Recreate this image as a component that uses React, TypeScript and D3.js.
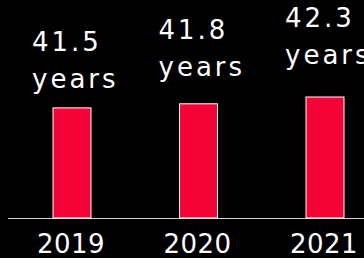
import * as d3 from 'd3';
import { useEffect } from 'react';

const years = ['2019', '2020', '2021'];
const averageAge = [41.5, 41.8, 42.3];
const unitLabel = 'years';

const W = 364;
const H = 258;
const baseline = 218;

const App = () => {
  useEffect(() => {
    document.body.style.margin = '0';
    document.body.style.background = '#000';
  }, []);

  // bar centres
  const x = d3.scalePoint<string>()
    .domain(years)
    .range([72, 325]);

  // bars don't start at zero in the original
  const y = d3.scaleLinear()
    .domain([33.4, 42.3])
    .range([baseline, 97]);

  const barW = 38;
  const font = '"DejaVu Sans", Verdana, sans-serif';

  return (
    <svg width={W} height={H} style={{ display: 'block', background: '#000' }}>
      <line x1={8} x2={W} y1={baseline + 0.5} y2={baseline + 0.5} stroke="#d6d6d6" strokeWidth={1.2} />
      {years.map((yr, i) => {
        const cx = x(yr)!;
        const v = averageAge[i];
        const top = y(v);
        const labelBase = 51 - 12 * i;
        return (
          <g key={yr}>
            <rect
              x={cx - barW / 2}
              y={top}
              width={barW}
              height={baseline - top}
              fill="#f50537"
              stroke="#ffffff"
              strokeWidth={1}
            />
            <text x={cx - 40} y={labelBase} fill="#fff" fontFamily={font} fontSize={26} letterSpacing={3}>
              {v.toFixed(1)}
            </text>
            <text x={cx - 40} y={labelBase + 37} fill="#fff" fontFamily={font} fontSize={26} letterSpacing={3}>
              {unitLabel}
            </text>
            <text x={cx - 1} y={253} fill="#fff" fontFamily={font} fontSize={26} textAnchor="middle" letterSpacing={0.5}>
              {yr}
            </text>
          </g>
        );
      })}
    </svg>
  );
};

export default App;
